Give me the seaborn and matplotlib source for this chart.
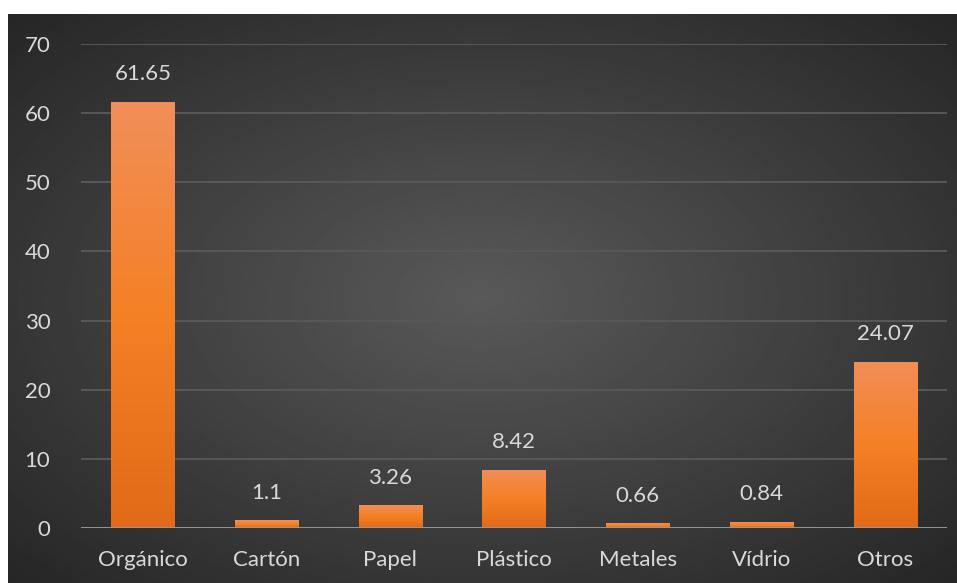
import matplotlib
matplotlib.use("Agg")
import matplotlib.pyplot as plt
import numpy as np
import pandas as pd
import seaborn as sns
from matplotlib.colors import LinearSegmentedColormap

categorias = ["Orgánico", "Cartón", "Papel", "Plástico", "Metales", "Vídrio", "Otros"]
porcentajes = [61.65, 1.1, 3.26, 8.42, 0.66, 0.84, 24.07]
etiquetas = ["61.65", "1.1", "3.26", "8.42", "0.66", "0.84", "24.07"]
ticks_y = [0, 10, 20, 30, 40, 50, 60, 70]

df = pd.DataFrame({"categoria": categorias, "valor": porcentajes})

sns.set_theme(style="dark")
plt.rcParams['font.family'] = ['Lato', 'DejaVu Sans']
texto = "#d9d9d9"

fig = plt.figure(figsize=(9.57, 5.83), dpi=100, facecolor="white")

# fondo con degradado radial
bg = fig.add_axes([8 / 957, 0, 949 / 957, 569 / 583])
yy, xx = np.mgrid[-1:1:300j, -1:1:500j]
r = np.sqrt(xx ** 2 + yy ** 2) / np.sqrt(2)
bg.imshow(0.35 - 0.2 * r, cmap="gray", vmin=0, vmax=1, aspect="auto", extent=[0, 1, 0, 1])
bg.set_axis_off()

ax = fig.add_axes([81 / 957, 1 - 528 / 583, 866 / 957, (528 - 44) / 583])
ax.patch.set_alpha(0)
sns.barplot(data=df, x="categoria", y="valor", color="#ed7d31", width=0.51, ax=ax, zorder=3)

# degradado naranja dentro de cada barra (claro arriba, oscuro abajo)
grad = np.linspace(0, 1, 100).reshape(-1, 1)
cmap = LinearSegmentedColormap.from_list("nar", ["#f18e58", "#f58025", "#e26a18"])
for p in ax.patches:
    x0, y0 = p.get_x(), p.get_y()
    w, h = p.get_width(), p.get_height()
    im = ax.imshow(grad, cmap=cmap, aspect="auto", origin="upper",
                   extent=[x0, x0 + w, y0, y0 + h], zorder=4)
    im.set_clip_path(p)
    p.set_edgecolor("none")

for i, (v, t) in enumerate(zip(porcentajes, etiquetas)):
    ax.annotate(t, (i, v), xytext=(0, 20), textcoords="offset points",
                ha="center", va="center", color=texto, fontsize=16)

ax.set_xlim(-0.5, len(categorias) - 0.5)
ax.set_ylim(0, 70)
ax.set_yticks(ticks_y)
ax.yaxis.grid(True, color="#585858", linewidth=1.4, zorder=0)
ax.xaxis.grid(False)
ax.axhline(0, color="#9a9a9a", linewidth=2, zorder=5)
for s in ax.spines.values():
    s.set_visible(False)
ax.tick_params(axis="y", length=0, pad=22, labelsize=16, labelcolor=texto)
ax.tick_params(axis="x", length=0, pad=16, labelsize=16, labelcolor=texto)
ax.set_xlabel("")
ax.set_ylabel("")

fig.savefig("out.png", dpi=100, facecolor="white")
